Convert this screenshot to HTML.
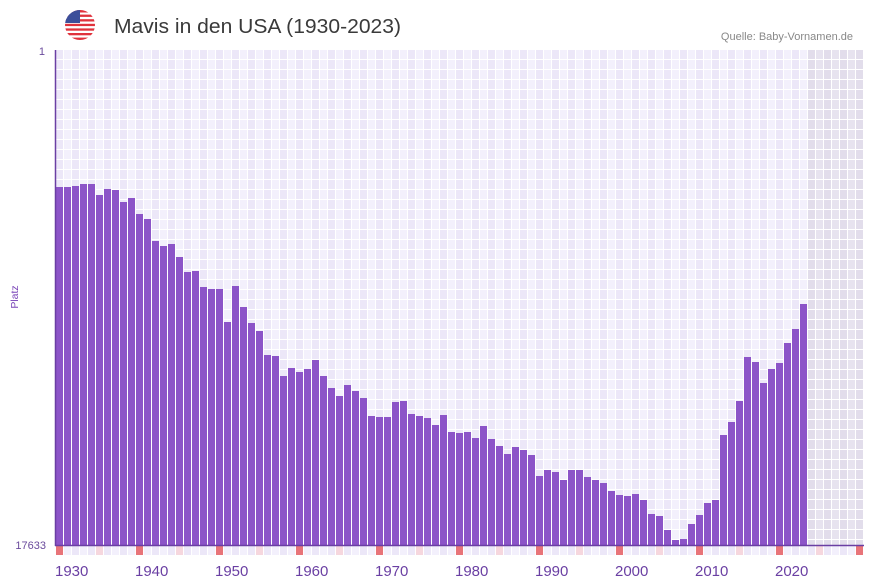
<!DOCTYPE html>
<html><head><meta charset="utf-8"><style>
html,body{margin:0;padding:0;background:#fff;}
svg{display:block;font-family:"Liberation Sans",sans-serif;}
</style></head><body>
<svg width="873" height="587" viewBox="0 0 873 587" xmlns="http://www.w3.org/2000/svg">
<defs>
<pattern id="g" x="56" y="50" width="16" height="10" patternUnits="userSpaceOnUse">
<rect x="0" y="0" width="7" height="9" fill="#ece7f8"/><rect x="8" y="0" width="7" height="9" fill="#f3f0fc"/>
</pattern>
<pattern id="gg" x="56" y="50" width="16" height="10" patternUnits="userSpaceOnUse">
<rect x="0" y="0" width="7" height="9" fill="#e2ddeb"/><rect x="8" y="0" width="7" height="9" fill="#e7e3ef"/>
</pattern>
<pattern id="m" x="56" y="546" width="16" height="9" patternUnits="userSpaceOnUse">
<rect x="0" y="0" width="7" height="9" fill="#ece7f8"/><rect x="8" y="0" width="7" height="9" fill="#f3f0fc"/>
</pattern>
<clipPath id="fc"><circle cx="80" cy="25" r="15"/></clipPath>
</defs>
<g clip-path="url(#fc)">
<rect x="65" y="10" width="30" height="30" fill="#fff"/>
<rect x="65" y="10" width="30" height="2.5" fill="#e0323c"/>
<rect x="65" y="14.6" width="30" height="2.3" fill="#e0323c"/>
<rect x="65" y="19.2" width="30" height="2.3" fill="#e0323c"/>
<rect x="65" y="23.8" width="30" height="2.3" fill="#e0323c"/>
<rect x="65" y="28.4" width="30" height="2.3" fill="#e0323c"/>
<rect x="65" y="33" width="30" height="2.3" fill="#e0323c"/>
<rect x="65" y="37.6" width="30" height="2.5" fill="#e0323c"/>
<rect x="65" y="10" width="15" height="13" fill="#3c4f9a"/>
</g>
<text x="114" y="33" font-size="20.5" fill="#3a3a3a" textLength="287" lengthAdjust="spacingAndGlyphs">Mavis in den USA (1930-2023)</text>
<text x="853" y="40" font-size="11" fill="#888" text-anchor="end">Quelle: Baby-Vornamen.de</text>
<rect x="56" y="50" width="752" height="495" fill="url(#g)"/>
<rect x="808" y="50" width="56" height="495" fill="url(#gg)"/>
<rect x="56" y="546" width="808" height="9" fill="url(#m)"/>
<g fill="#e87479">
<rect x="56" y="546" width="7" height="9"/><rect x="136" y="546" width="7" height="9"/><rect x="216" y="546" width="7" height="9"/><rect x="296" y="546" width="7" height="9"/><rect x="376" y="546" width="7" height="9"/><rect x="456" y="546" width="7" height="9"/><rect x="536" y="546" width="7" height="9"/><rect x="616" y="546" width="7" height="9"/><rect x="696" y="546" width="7" height="9"/><rect x="776" y="546" width="7" height="9"/><rect x="856" y="546" width="7" height="9"/>
</g>
<g fill="#f6d7de">
<rect x="96" y="546" width="7" height="9"/><rect x="176" y="546" width="7" height="9"/><rect x="256" y="546" width="7" height="9"/><rect x="336" y="546" width="7" height="9"/><rect x="416" y="546" width="7" height="9"/><rect x="496" y="546" width="7" height="9"/><rect x="576" y="546" width="7" height="9"/><rect x="656" y="546" width="7" height="9"/><rect x="736" y="546" width="7" height="9"/><rect x="816" y="546" width="7" height="9"/>
</g>
<g fill="#8c54c8">
<rect x="56" y="187" width="7" height="358"/>
<rect x="64" y="187" width="7" height="358"/>
<rect x="72" y="186" width="7" height="359"/>
<rect x="80" y="184" width="7" height="361"/>
<rect x="88" y="184" width="7" height="361"/>
<rect x="96" y="195" width="7" height="350"/>
<rect x="104" y="189" width="7" height="356"/>
<rect x="112" y="190" width="7" height="355"/>
<rect x="120" y="202" width="7" height="343"/>
<rect x="128" y="198" width="7" height="347"/>
<rect x="136" y="214" width="7" height="331"/>
<rect x="144" y="219" width="7" height="326"/>
<rect x="152" y="241" width="7" height="304"/>
<rect x="160" y="246" width="7" height="299"/>
<rect x="168" y="244" width="7" height="301"/>
<rect x="176" y="257" width="7" height="288"/>
<rect x="184" y="272" width="7" height="273"/>
<rect x="192" y="271" width="7" height="274"/>
<rect x="200" y="287" width="7" height="258"/>
<rect x="208" y="289" width="7" height="256"/>
<rect x="216" y="289" width="7" height="256"/>
<rect x="224" y="322" width="7" height="223"/>
<rect x="232" y="286" width="7" height="259"/>
<rect x="240" y="307" width="7" height="238"/>
<rect x="248" y="323" width="7" height="222"/>
<rect x="256" y="331" width="7" height="214"/>
<rect x="264" y="355" width="7" height="190"/>
<rect x="272" y="356" width="7" height="189"/>
<rect x="280" y="376" width="7" height="169"/>
<rect x="288" y="368" width="7" height="177"/>
<rect x="296" y="372" width="7" height="173"/>
<rect x="304" y="369" width="7" height="176"/>
<rect x="312" y="360" width="7" height="185"/>
<rect x="320" y="376" width="7" height="169"/>
<rect x="328" y="388" width="7" height="157"/>
<rect x="336" y="396" width="7" height="149"/>
<rect x="344" y="385" width="7" height="160"/>
<rect x="352" y="391" width="7" height="154"/>
<rect x="360" y="398" width="7" height="147"/>
<rect x="368" y="416" width="7" height="129"/>
<rect x="376" y="417" width="7" height="128"/>
<rect x="384" y="417" width="7" height="128"/>
<rect x="392" y="402" width="7" height="143"/>
<rect x="400" y="401" width="7" height="144"/>
<rect x="408" y="414" width="7" height="131"/>
<rect x="416" y="416" width="7" height="129"/>
<rect x="424" y="418" width="7" height="127"/>
<rect x="432" y="425" width="7" height="120"/>
<rect x="440" y="415" width="7" height="130"/>
<rect x="448" y="432" width="7" height="113"/>
<rect x="456" y="433" width="7" height="112"/>
<rect x="464" y="432" width="7" height="113"/>
<rect x="472" y="438" width="7" height="107"/>
<rect x="480" y="426" width="7" height="119"/>
<rect x="488" y="439" width="7" height="106"/>
<rect x="496" y="446" width="7" height="99"/>
<rect x="504" y="454" width="7" height="91"/>
<rect x="512" y="447" width="7" height="98"/>
<rect x="520" y="450" width="7" height="95"/>
<rect x="528" y="455" width="7" height="90"/>
<rect x="536" y="476" width="7" height="69"/>
<rect x="544" y="470" width="7" height="75"/>
<rect x="552" y="472" width="7" height="73"/>
<rect x="560" y="480" width="7" height="65"/>
<rect x="568" y="470" width="7" height="75"/>
<rect x="576" y="470" width="7" height="75"/>
<rect x="584" y="477" width="7" height="68"/>
<rect x="592" y="480" width="7" height="65"/>
<rect x="600" y="483" width="7" height="62"/>
<rect x="608" y="491" width="7" height="54"/>
<rect x="616" y="495" width="7" height="50"/>
<rect x="624" y="496" width="7" height="49"/>
<rect x="632" y="494" width="7" height="51"/>
<rect x="640" y="500" width="7" height="45"/>
<rect x="648" y="514" width="7" height="31"/>
<rect x="656" y="516" width="7" height="29"/>
<rect x="664" y="530" width="7" height="15"/>
<rect x="672" y="540" width="7" height="5"/>
<rect x="680" y="539" width="7" height="6"/>
<rect x="688" y="524" width="7" height="21"/>
<rect x="696" y="515" width="7" height="30"/>
<rect x="704" y="503" width="7" height="42"/>
<rect x="712" y="500" width="7" height="45"/>
<rect x="720" y="435" width="7" height="110"/>
<rect x="728" y="422" width="7" height="123"/>
<rect x="736" y="401" width="7" height="144"/>
<rect x="744" y="357" width="7" height="188"/>
<rect x="752" y="362" width="7" height="183"/>
<rect x="760" y="383" width="7" height="162"/>
<rect x="768" y="369" width="7" height="176"/>
<rect x="776" y="363" width="7" height="182"/>
<rect x="784" y="343" width="7" height="202"/>
<rect x="792" y="329" width="7" height="216"/>
<rect x="800" y="304" width="7" height="241"/>
</g>
<line x1="55.5" y1="50" x2="55.5" y2="546" stroke="#6a3fa3" stroke-width="1.5"/>
<line x1="55" y1="545.5" x2="864" y2="545.5" stroke="#6a3fa3" stroke-width="1.5"/>
<text x="45" y="55" font-size="11" fill="#6a4a9c" text-anchor="end">1</text>
<text x="46" y="549" font-size="11" fill="#6a4a9c" text-anchor="end">17633</text>
<text transform="translate(18,297) rotate(-90)" font-size="10.5" fill="#7a45b8" text-anchor="middle">Platz</text>
<g font-size="15" fill="#6a3fa3">
<text x="55" y="576">1930</text><text x="135" y="576">1940</text><text x="215" y="576">1950</text><text x="295" y="576">1960</text><text x="375" y="576">1970</text><text x="455" y="576">1980</text><text x="535" y="576">1990</text><text x="615" y="576">2000</text><text x="695" y="576">2010</text><text x="775" y="576">2020</text>
</g>
</svg>
</body></html>
